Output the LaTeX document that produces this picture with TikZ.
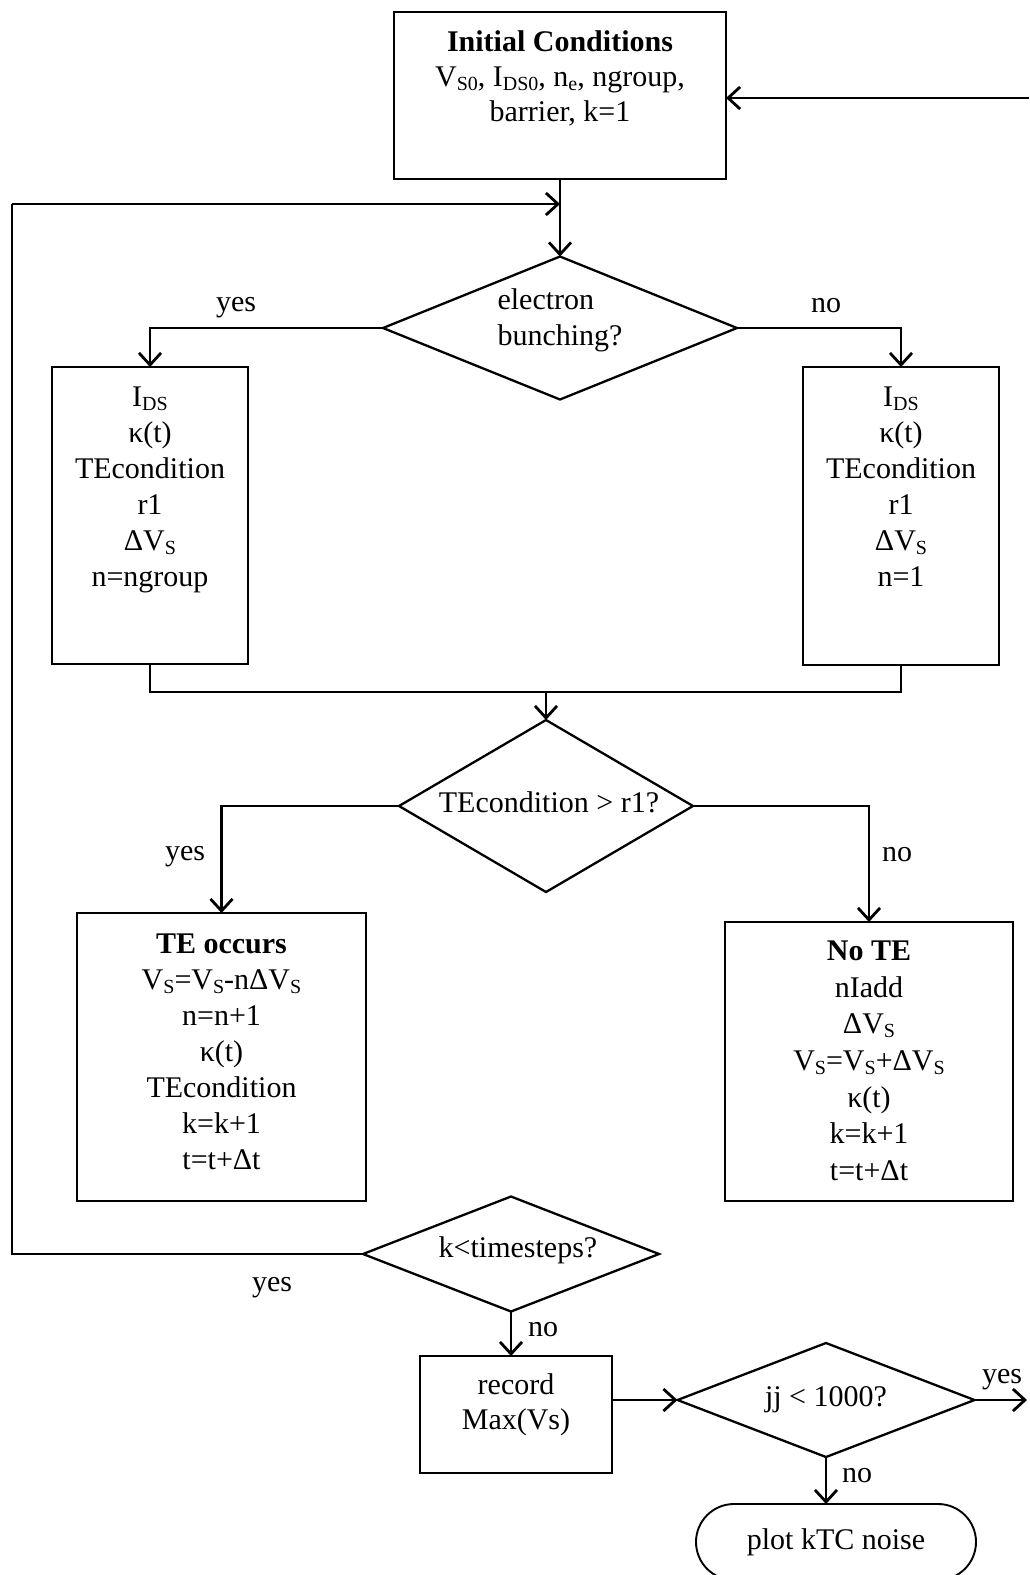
\documentclass[tikz,border=0pt]{standalone}
\usepackage{fontspec}
\setmainfont{Liberation Serif}
\usetikzlibrary{shapes.geometric,shapes.misc,arrows.meta}
\newcommand\sbs[1]{\raisebox{-0.3ex}{\fontsize{20}{20}\selectfont #1}}
\begin{document}
\begin{tikzpicture}[x=1pt,y=-1pt,
  every node/.style={font=\fontsize{30}{36}\selectfont, inner sep=0pt, outer sep=0pt},
  box/.style={draw, rectangle, line width=1.9pt},
  dia/.style={draw, diamond, line width=2.3pt},
  txt/.style={align=center, anchor=north},
  conn/.style={line width=2.8pt},
  arr/.style={conn, -{Straight Barb[length=12pt,width=22pt]}}]
\useasboundingbox (0,0) rectangle (1029,1575);
% initial conditions
\node[box, minimum width=332pt, minimum height=167pt] (init) at (560,95.5) {};
\node[txt, font=\fontsize{30}{35}\selectfont] (initt) at (560,31) {\textbf{Initial Conditions}\\V\sbs{S0}, I\sbs{DS0}, n\sbs{e}, ngroup,\\barrier, k=1};
% decision 1
\node[dia, minimum width=354pt, minimum height=143pt] (d1) at (560,328) {};
\node[align=left] (d1t) at (560,320) {electron\\bunching?};
% left / right boxes
\node[box, minimum width=196pt, minimum height=297pt] (lb) at (150,515.5) {};
\node[txt] (lbt) at (150,387) {I\sbs{DS}\\κ(t)\\TEcondition\\r1\\ΔV\sbs{S}\\n=ngroup};
\node[box, minimum width=196pt, minimum height=298pt] (rb) at (901,516) {};
\node[txt] (rbt) at (901,387) {I\sbs{DS}\\κ(t)\\TEcondition\\r1\\ΔV\sbs{S}\\n=1};
% decision 2
\coordinate (mrg) at (546,692);
\node[dia, minimum width=294pt, minimum height=172pt] (d2) at (546,806) {};
\node (d2t) at (549,802) {TEcondition > r1?};
% TE boxes
\node[box, minimum width=289pt, minimum height=288pt] (te) at (221.5,1057) {};
\node[txt] (tet) at (221.5,934) {\textbf{TE occurs}\\V\sbs{S}=V\sbs{S}-nΔV\sbs{S}\\n=n+1\\κ(t)\\TEcondition\\k=k+1\\t=t+Δt};
\node[box, minimum width=288pt, minimum height=279pt] (nte) at (869,1061.5) {};
\node[txt, font=\fontsize{30}{36.6}\selectfont] (ntet) at (869,941) {\textbf{No TE}\\nIadd\\ΔV\sbs{S}\\V\sbs{S}=V\sbs{S}+ΔV\sbs{S}\\κ(t)\\k=k+1\\t=t+Δt};
% decision 3
\node[dia, minimum width=296pt, minimum height=115pt] (d3) at (511,1254) {};
\node (d3t) at (518,1250) {k<timesteps?};
% record
\node[box, minimum width=192pt, minimum height=117pt] (rec) at (516,1414.5) {};
\node[txt, font=\fontsize{30}{35}\selectfont] (rect) at (516,1374) {record\\Max(Vs)};
% decision 4
\node[dia, minimum width=297pt, minimum height=114pt] (d4) at (826,1400) {};
\node (d4t) at (826,1400) {jj < 1000?};
% end
\node[draw, rounded rectangle, line width=1.9pt, minimum width=280pt, minimum height=76pt] (fin) at (836,1542) {plot kTC noise};
% free ends
\coordinate (rin) at (1029,98);
\coordinate (rout) at (1027,1400);
\coordinate (lpa) at (12,1254);
\coordinate (lpb) at (12,204);
% connectors
\draw[arr] (rin) -- (rin -| init.east);
\draw[arr] (init.south) -- (d1.north);
\draw[conn] (d3.west) -- (lpa) -- (lpb);
\draw[arr] (lpb) -- (lpb -| init.south);
\draw[arr] (d1.west) -| (lb.north);
\draw[arr] (d1.east) -| (rb.north);
\draw[conn] (lb.south) -- (lb.south |- mrg) -- (rb.south |- mrg) -- (rb.south);
\draw[arr] (mrg) -- (d2.north);
\draw[arr] (d2.west) -| (te.north);
\draw[arr] (d2.east) -| (nte.north);
\draw[arr] (d3.south) -- (d3.south |- rec.north);
\draw[arr] (d4.west -| rec.east) -- (d4.west);
\draw[arr] (d4.east) -- (rout);
\draw[arr] (d4.south) -- (d4.south |- fin.north);
% labels
\node (y1) at (236,308) {yes};
\node (n1) at (826,306) {no};
\node (y2) at (185,857) {yes};
\node (n2) at (897,855) {no};
\node (y3) at (272,1288) {yes};
\node (n3) at (543,1330) {no};
\node (y4) at (1002,1380) {yes};
\node (n4) at (857,1476) {no};
\end{tikzpicture}
\end{document}
